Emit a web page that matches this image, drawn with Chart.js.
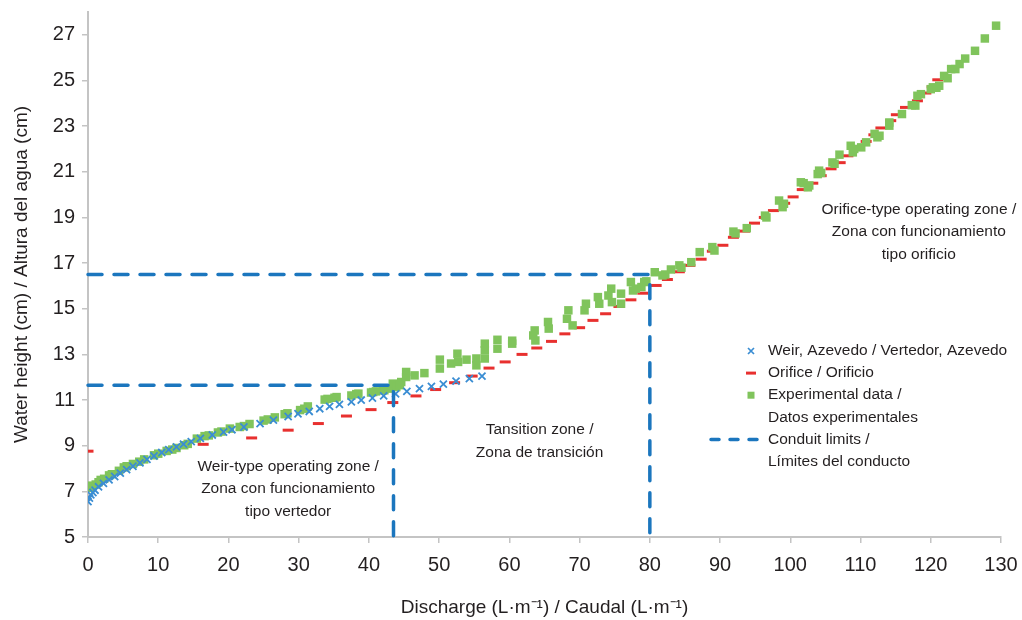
<!DOCTYPE html>
<html>
<head>
<meta charset="utf-8">
<script src="https://cdn.jsdelivr.net/npm/chart.js@4.4.1/dist/chart.umd.min.js"></script>
<style>
  html, body { margin: 0; padding: 0; background: #fff; }
</style>
</head>
<body>
<canvas id="chart" width="1022" height="620"></canvas>
<script>
const FONT = "'Liberation Sans', Arial, sans-serif";
const INK = '#231f20';

// axis ticks
const xTicks = [0, 10, 20, 30, 40, 50, 60, 70, 80, 90, 100, 110, 120, 130];
const yTicks = [5, 7, 9, 11, 13, 15, 17, 19, 21, 23, 25, 27];

// Weir, Azevedo (discharge L/m, height cm)
const weirQ = [0, 0.2, 0.4, 0.7, 1.0, 1.5, 2.2, 3.0, 3.8, 4.6, 5.5, 6.4, 7.4, 8.4, 9.4, 10.5, 11.5, 12.6, 13.6, 14.7,
  16.0, 17.7, 19.3, 20.5, 22.2, 24.5, 26.4, 28.5, 29.9, 31.5, 33.0, 34.4, 35.8, 37.5, 38.9, 40.5, 42.1, 43.8,
  45.4, 47.2, 48.9, 50.6, 52.4, 54.3, 56.1];
const weirH = [6.55, 6.7, 6.85, 6.95, 7.05, 7.2, 7.35, 7.5, 7.65, 7.8, 7.95, 8.1, 8.25, 8.4, 8.55, 8.7, 8.83, 8.95, 9.07, 9.18,
  9.32, 9.47, 9.6, 9.7, 9.82, 9.97, 10.12, 10.28, 10.4, 10.5, 10.62, 10.72, 10.81, 10.92, 11.0, 11.09, 11.18, 11.27,
  11.38, 11.5, 11.6, 11.7, 11.83, 11.94, 12.05];

// Orifice / Orificio
const orificeQ = [0, 16.4, 23.3, 28.5, 32.8, 36.8, 40.3, 43.4, 46.7, 49.5, 52.2, 54.7, 57.1, 59.4, 61.8, 63.9, 66.0, 67.9,
  70.0, 71.9, 73.7, 75.6, 77.3, 79.0, 80.9, 82.5, 84.2, 85.7, 87.3, 88.9, 90.4, 91.9, 93.5, 94.9, 96.3, 97.6, 99.2,
  100.4, 101.7, 103.2, 104.4, 105.8, 107.1, 108.2, 109.3, 110.8, 111.9, 112.9, 114.3, 115.1, 116.4, 118.1, 119.3, 120.2, 121.0];
const orificeH = [8.76, 9.06, 9.34, 9.68, 9.97, 10.3, 10.58, 10.89, 11.18, 11.46, 11.76, 12.05, 12.4, 12.67, 13.0, 13.28, 13.57, 13.9,
  14.17, 14.49, 14.78, 15.1, 15.39, 15.68, 16.02, 16.28, 16.62, 16.9, 17.17, 17.52, 17.78, 18.13, 18.4, 18.75, 19.0, 19.3, 19.62,
  19.9, 20.22, 20.5, 20.83, 21.13, 21.4, 21.7, 22.04, 22.33, 22.62, 22.92, 23.24, 23.5, 23.82, 24.11, 24.45, 24.72, 25.03];

// Experimental data / Datos experimentales
const expQ = [0.4, 0.6, 1.1, 1.5, 1.8, 2.3, 3.0, 3.4, 4.4, 5.1, 5.5, 6.4, 7.3, 8.0, 9.4, 10.0, 11.2, 12.0, 12.6, 13.7, 14.2,
  15.5, 16.6, 17.2, 18.5, 19.0, 20.2, 21.6, 22.2, 23.0, 25.0, 25.6, 26.6, 28.0, 28.4, 30.2, 30.8, 31.3, 33.7, 34.1, 35.1,
  35.4, 37.5, 38.2, 38.5, 40.3, 40.6, 41.0, 42.0, 42.2, 43.0, 43.4, 43.9, 44.4, 44.6, 45.3, 45.3, 46.5, 47.9,
  50.1, 50.1, 51.7, 52.6, 52.7, 53.9, 55.3, 55.3, 56.5, 56.5, 56.5, 58.3, 58.3, 60.4, 60.4,
  63.4, 63.6, 63.7, 65.5, 65.6, 68.2, 68.4, 69.0, 70.7, 70.9, 72.6, 72.8, 74.1, 74.5, 74.6, 75.9, 75.9,
  77.3, 77.6, 78.0, 78.8, 79.2, 79.5, 80.7, 81.8, 82.2, 83.0, 84.2, 84.5, 85.9, 87.1, 88.9, 89.2,
  91.9, 92.2, 93.8, 96.4, 96.6, 98.4, 98.9, 99.1, 101.5, 101.9, 102.5, 102.7, 103.9, 104.1, 104.4,
  106.0, 106.3, 107.0, 108.6, 108.9, 109.1, 110.1, 110.8, 112.0, 112.4, 112.7, 114.1, 114.1, 115.9, 117.3, 117.8,
  118.1, 118.6, 120.0, 120.3, 120.8, 121.2, 121.9, 122.4, 122.9, 123.5, 124.1, 124.9, 126.3, 127.7, 129.3];
const expH = [7.15, 7.25, 7.3, 7.4, 7.5, 7.55, 7.7, 7.75, 7.9, 8.05, 8.1, 8.2, 8.3, 8.4, 8.58, 8.65, 8.77, 8.83, 8.9, 9.02, 9.08,
  9.31, 9.42, 9.45, 9.58, 9.62, 9.75, 9.82, 9.86, 9.95, 10.1, 10.15, 10.24, 10.38, 10.42, 10.56, 10.62, 10.72, 11.02, 11.05, 11.1,
  11.13, 11.2, 11.26, 11.28, 11.33, 11.35, 11.38, 11.43, 11.43, 11.5, 11.72, 11.57, 11.65, 11.79, 12.01, 12.23, 12.08, 12.18,
  12.77, 12.38, 12.6, 13.03, 12.67, 12.77, 12.82, 12.52, 13.47, 13.18, 12.82, 13.64, 13.25, 13.47, 13.6,
  13.83, 14.05, 13.61, 14.42, 14.13, 14.56, 14.93, 14.27, 14.93, 15.22, 15.51, 15.22, 15.58, 15.88, 15.29, 15.66, 15.22,
  16.17, 15.8, 15.88, 15.95, 16.17, 16.2, 16.6, 16.46, 16.5, 16.72, 16.9, 16.8, 17.04, 17.48, 17.7, 17.55,
  18.38, 18.3, 18.53, 19.08, 19.0, 19.74, 19.45, 19.6, 20.54, 20.5, 20.32, 20.4, 20.9, 21.05, 20.95,
  21.41, 21.35, 21.75, 22.14, 21.85, 22.0, 22.07, 22.29, 22.66, 22.51, 22.58, 23.02, 23.16, 23.53, 23.92, 23.9,
  24.33, 24.4, 24.62, 24.7, 24.68, 24.77, 25.2, 25.1, 25.5, 25.5, 25.72, 25.96, 26.3, 26.84, 27.4];

// Conduit limits (two L-shaped dashed guides)
const conduitLowQ = [0, 43.5, 43.5];
const conduitLowH = [11.65, 11.65, 5];
const conduitHighQ = [0, 80, 80];
const conduitHighH = [16.5, 16.5, 5];

const pts = (xs, ys) => xs.map((x, i) => ({ x: x, y: ys[i] }));

const BLUE_X = '#3a8dd3';
const RED = '#e8302f';
const GREEN = '#80c45c';
const CONDUIT = '#1b76be';

const zoneNotes = [
  { x: 28.5, y: 8.1, lines: ['Weir-type operating zone /', 'Zona con funcionamiento', 'tipo vertedor'] },
  { x: 64.3, y: 9.68, lines: ['Tansition zone /', 'Zona de transición'] },
  { x: 118.3, y: 19.34, lines: ['Orifice-type operating zone /', 'Zona con funcionamiento', 'tipo orificio'] }
];

const legendItems = [
  { mark: 'cross', lines: ['Weir, Azevedo / Vertedor, Azevedo'] },
  { mark: 'dash', lines: ['Orifice / Orificio'] },
  { mark: 'square', lines: ['Experimental data /', 'Datos experimentales'] },
  { mark: 'dashed', lines: ['Conduit limits /', 'Límites del conducto'] }
];

const drawExtras = {
  id: 'drawExtras',
  afterDraw(chart) {
    const ctx = chart.ctx;
    const xs = chart.scales.x, ys = chart.scales.y;
    ctx.save();
    ctx.font = '15.5px ' + FONT;
    ctx.fillStyle = INK;
    ctx.textBaseline = 'middle';

    // zone labels
    ctx.textAlign = 'center';
    zoneNotes.forEach(n => {
      const px = xs.getPixelForValue(n.x);
      const py = ys.getPixelForValue(n.y);
      n.lines.forEach((t, i) => ctx.fillText(t, px, py + i * 22.5));
    });

    // legend
    ctx.textAlign = 'left';
    const mx = 751, tx = 768, lh = 22.1;
    let y = 351;
    legendItems.forEach(it => {
      if (it.mark === 'cross') {
        ctx.strokeStyle = BLUE_X; ctx.lineWidth = 1.7;
        ctx.beginPath();
        ctx.moveTo(mx - 3, y - 3); ctx.lineTo(mx + 3, y + 3);
        ctx.moveTo(mx - 3, y + 3); ctx.lineTo(mx + 3, y - 3);
        ctx.stroke();
      } else if (it.mark === 'dash') {
        ctx.strokeStyle = RED; ctx.lineWidth = 3;
        ctx.beginPath(); ctx.moveTo(mx - 5, y); ctx.lineTo(mx + 5, y); ctx.stroke();
      } else if (it.mark === 'square') {
        ctx.fillStyle = GREEN;
        ctx.fillRect(mx - 3.5, y - 3.5, 7, 7);
        ctx.fillStyle = INK;
      } else {
        ctx.strokeStyle = CONDUIT; ctx.lineWidth = 3.5; ctx.lineCap = 'round';
        ctx.beginPath();
        [711, 730, 749].forEach(s => { ctx.moveTo(s, y); ctx.lineTo(s + 8, y); });
        ctx.stroke();
      }
      it.lines.forEach((t, i) => ctx.fillText(t, tx, y + i * lh));
      y += lh * it.lines.length;
    });
    ctx.restore();
  }
};

const axisLine = '#c4c4c4';

new Chart(document.getElementById('chart'), {
  type: 'scatter',
  data: {
    datasets: [
      {
        label: 'Conduit limits / Límites del conducto',
        data: pts(conduitHighQ, conduitHighH),
        showLine: true, pointRadius: 0, borderColor: CONDUIT, borderWidth: 3.5,
        borderDash: [14, 12], borderCapStyle: 'round', order: 0, clip: false
      },
      {
        label: 'Conduit limits (low)',
        data: pts(conduitLowQ, conduitLowH),
        showLine: true, pointRadius: 0, borderColor: CONDUIT, borderWidth: 3.5,
        borderDash: [14, 12], borderCapStyle: 'round', order: 0, clip: false
      },
      {
        label: 'Weir, Azevedo / Vertedor, Azevedo',
        data: pts(weirQ, weirH),
        pointStyle: 'crossRot', pointRadius: 5, borderColor: BLUE_X, backgroundColor: BLUE_X,
        pointBorderWidth: 1.8, order: 1
      },
      {
        label: 'Experimental data / Datos experimentales',
        data: pts(expQ, expH),
        pointStyle: 'rect', pointRadius: 6, borderColor: GREEN, backgroundColor: GREEN,
        pointBorderWidth: 0, order: 2
      },
      {
        label: 'Orifice / Orificio',
        data: pts(orificeQ, orificeH),
        pointStyle: 'line', pointRadius: 5.5, borderColor: RED, backgroundColor: RED,
        pointBorderWidth: 3, order: 3
      }
    ]
  },
  options: {
    responsive: false,
    animation: false,
    layout: { padding: { left: 0, right: 21, top: 12, bottom: 0 } },
    plugins: { legend: { display: false }, tooltip: { enabled: false } },
    scales: {
      x: {
        type: 'linear', min: 0, max: 130,
        afterBuildTicks: (axis) => { axis.ticks = xTicks.map(v => ({ value: v })); },
        afterFit: (axis) => { axis.height = 83; axis.paddingLeft = 0; axis.paddingRight = 0; },
        grid: { display: true, drawOnChartArea: false, tickLength: 6, color: axisLine, lineWidth: 1.5 },
        border: { color: axisLine, width: 2 },
        ticks: { color: INK, font: { family: FONT, size: 20 }, padding: 10, maxRotation: 0 },
        title: {
          display: true, text: 'Discharge (L·m⁻¹) / Caudal (L·m⁻¹)', color: INK,
          font: { family: FONT, size: 19 }, padding: { top: 4, bottom: 1 }
        }
      },
      y: {
        type: 'linear', min: 5, max: 28,
        afterBuildTicks: (axis) => { axis.ticks = yTicks.map(v => ({ value: v })); },
        afterFit: (axis) => { axis.width = 88; axis.paddingTop = 0; axis.paddingBottom = 0; },
        grid: { display: true, drawOnChartArea: false, tickLength: 6, color: axisLine, lineWidth: 1.5 },
        border: { color: axisLine, width: 2 },
        ticks: { color: INK, font: { family: FONT, size: 20 }, padding: 7 },
        title: {
          display: true, text: 'Water height (cm) / Altura del agua (cm)', color: INK,
          font: { family: FONT, size: 19 }, padding: { top: 10, bottom: 4 }
        }
      }
    }
  },
  plugins: [drawExtras]
});
</script>
</body>
</html>
